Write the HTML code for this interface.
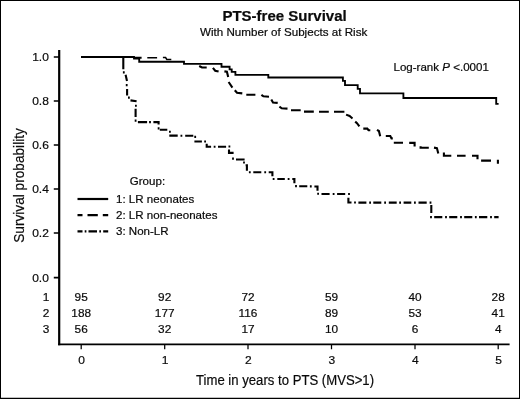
<!DOCTYPE html>
<html>
<head>
<meta charset="utf-8">
<title>PTS-free Survival</title>
<style>
html,body{margin:0;padding:0;background:#fff;}
body{width:520px;height:399px;overflow:hidden;}
svg{display:block;will-change:transform;}
text{font-family:"Liberation Sans",Arial,Helvetica,sans-serif;fill:#0a0a0a;stroke:#0a0a0a;stroke-width:0.2px;}
</style>
</head>
<body>
<svg width="520" height="399" viewBox="0 0 520 399">
<rect x="0" y="0" width="520" height="399" fill="#ffffff"/>
<!-- outer frame -->
<rect x="0.5" y="0.5" width="519" height="398" fill="none" stroke="#000" stroke-width="1"/>
<path d="M0 397.6 H520" stroke="#000" stroke-width="0.8" stroke-opacity="0.35"/>

<!-- titles -->
<text transform="translate(284.55 21.4) scale(1.08 1)" text-anchor="middle" style="font-size:13.9px;font-weight:bold;">PTS-free Survival</text>
<text transform="translate(283.6 35.7) scale(1.058 1)" text-anchor="middle" style="font-size:11px;">With Number of Subjects at Risk</text>

<!-- axes -->
<g stroke="#000" fill="none">
<path d="M59.2 50 V345.3" stroke-width="2.2"/>
<path d="M58.1 344.4 H509.6" stroke-width="1.8"/>

<path stroke-width="1.6" d="M53.8 57 H59 M53.8 101 H59 M53.8 145 H59 M53.8 189 H59 M53.8 233 H59 M53.8 277.6 H59"/>
<path stroke-width="1.25" d="M81.2 344 V349.3 M164.7 344 V349.3 M248 344 V349.3 M331.5 344 V349.3 M415 344 V349.3 M498.2 344 V349.3"/>
</g>

<!-- y tick labels -->
<text transform="translate(48.9 61.2) scale(1.02 1)" text-anchor="end" style="font-size:11.8px;">1.0</text>
<text transform="translate(48.9 105.2) scale(1.02 1)" text-anchor="end" style="font-size:11.8px;">0.8</text>
<text transform="translate(48.9 149.2) scale(1.02 1)" text-anchor="end" style="font-size:11.8px;">0.6</text>
<text transform="translate(48.9 193.2) scale(1.02 1)" text-anchor="end" style="font-size:11.8px;">0.4</text>
<text transform="translate(48.9 237.2) scale(1.02 1)" text-anchor="end" style="font-size:11.8px;">0.2</text>
<text transform="translate(48.9 281.8) scale(1.02 1)" text-anchor="end" style="font-size:11.8px;">0.0</text>
<!-- group rows -->
<text transform="translate(49.3 301.3) scale(1.03 1)" text-anchor="end" style="font-size:11.5px;">1</text>
<text transform="translate(49.3 317.2) scale(1.03 1)" text-anchor="end" style="font-size:11.5px;">2</text>
<text transform="translate(49.3 333.4) scale(1.03 1)" text-anchor="end" style="font-size:11.5px;">3</text>
<!-- x tick labels -->
<text transform="translate(81.5 364.3) scale(1.02 1)" text-anchor="middle" style="font-size:11.8px;">0</text>
<text transform="translate(165.0 364.3) scale(1.02 1)" text-anchor="middle" style="font-size:11.8px;">1</text>
<text transform="translate(248.3 364.3) scale(1.02 1)" text-anchor="middle" style="font-size:11.8px;">2</text>
<text transform="translate(331.8 364.3) scale(1.02 1)" text-anchor="middle" style="font-size:11.8px;">3</text>
<text transform="translate(415.3 364.3) scale(1.02 1)" text-anchor="middle" style="font-size:11.8px;">4</text>
<text transform="translate(498.5 364.3) scale(1.02 1)" text-anchor="middle" style="font-size:11.8px;">5</text>
<!-- number at risk -->
<text transform="translate(81.2 301.3) scale(1.03 1)" text-anchor="middle" style="font-size:11.5px;">95</text>
<text transform="translate(164.7 301.3) scale(1.03 1)" text-anchor="middle" style="font-size:11.5px;">92</text>
<text transform="translate(248 301.3) scale(1.03 1)" text-anchor="middle" style="font-size:11.5px;">72</text>
<text transform="translate(331.5 301.3) scale(1.03 1)" text-anchor="middle" style="font-size:11.5px;">59</text>
<text transform="translate(415 301.3) scale(1.03 1)" text-anchor="middle" style="font-size:11.5px;">40</text>
<text transform="translate(498.2 301.3) scale(1.03 1)" text-anchor="middle" style="font-size:11.5px;">28</text>
<text transform="translate(81.2 317.2) scale(1.03 1)" text-anchor="middle" style="font-size:11.5px;">188</text>
<text transform="translate(164.7 317.2) scale(1.03 1)" text-anchor="middle" style="font-size:11.5px;">177</text>
<text transform="translate(248 317.2) scale(1.03 1)" text-anchor="middle" style="font-size:11.5px;">116</text>
<text transform="translate(331.5 317.2) scale(1.03 1)" text-anchor="middle" style="font-size:11.5px;">89</text>
<text transform="translate(415 317.2) scale(1.03 1)" text-anchor="middle" style="font-size:11.5px;">53</text>
<text transform="translate(498.2 317.2) scale(1.03 1)" text-anchor="middle" style="font-size:11.5px;">41</text>
<text transform="translate(81.2 333.4) scale(1.03 1)" text-anchor="middle" style="font-size:11.5px;">56</text>
<text transform="translate(164.7 333.4) scale(1.03 1)" text-anchor="middle" style="font-size:11.5px;">32</text>
<text transform="translate(248 333.4) scale(1.03 1)" text-anchor="middle" style="font-size:11.5px;">17</text>
<text transform="translate(331.5 333.4) scale(1.03 1)" text-anchor="middle" style="font-size:11.5px;">10</text>
<text transform="translate(415 333.4) scale(1.03 1)" text-anchor="middle" style="font-size:11.5px;">6</text>
<text transform="translate(498.2 333.4) scale(1.03 1)" text-anchor="middle" style="font-size:11.5px;">4</text>
<!-- axis labels -->
<text transform="translate(196 385) scale(0.865 1)" style="font-size:15.2px;">Time in years to PTS (MVS&gt;1)</text>
<text transform="translate(24.3 242.8) rotate(-90) scale(0.9 1)" style="font-size:15.2px;">Survival probability</text>
<!-- annotation -->
<text transform="translate(393.5 71.2) scale(1.09 1)" style="font-size:10.6px;">Log-rank <tspan font-style="italic">P</tspan> &lt;.0001</text>
<!-- legend -->
<text transform="translate(129.8 185) scale(1.09 1)" style="font-size:10.6px;">Group:</text>
<text transform="translate(116 203) scale(1.09 1)" style="font-size:10.6px;">1: LR neonates</text>
<text transform="translate(116 219) scale(1.09 1)" style="font-size:10.6px;">2: LR non-neonates</text>
<text transform="translate(116 235) scale(1.09 1)" style="font-size:10.6px;">3: Non-LR</text>
<g stroke="#000" stroke-width="2.2" fill="none">
<path d="M77.5 199 H108.2"/>
<path d="M77.5 215.1 H82.5 M87.5 215.1 H97.8 M102.8 215.1 H108.2"/>
<path d="M77.5 231.4 H82.5 M84.7 231.4 H86.4 M88.5 231.4 H97 M99.3 231.4 H101 M103.2 231.4 H108.2"/>
</g>

<!-- curves -->
<g stroke="#000" fill="none" stroke-linejoin="miter">
<path stroke-width="1.85" d="M81,57 H134 V58.6 H139.2 V61.7 H184 V63.8 H221.5 V66.7 H229.6 V69.3 H231.7 V71.8 H235.4 V74.8 H268.3 V77.5 H342.9 V80.8 H345 V85.1 H357.7 V88.8 H360 V93.4 H403.4 V98 H496.2 V103.8 H498.6"/>
<path stroke-width="1.5" d="M147.3,57.8 H157.1 M162.9,57.6 H165.6 L166.8,59.4 H171.3"/>
<path stroke-width="2.1" d="M133.6,57.7 H141.6 M199.2,66 L202,67.5 H206.7 M212.9,67.8 L215.2,70.7 L218.6,71.6 M224.4,71.4 L226.9,71.8 L228.2,77 M228.6,82 L232.4,87.6 M234.8,90.2 L237,92.8 L242.3,93.4 M246.3,94.8 H255.4 M261.4,94.8 L263.4,96.3 L269,96.7 M271.3,99.4 L273,102.5 L277.7,102.9 M279.4,106.7 L281.7,108.3 L287.5,108.6 M291,110.2 H300.7 M304,111.6 H313.8 M319,111.7 H328.8 M334,111.7 H344.4 M346.1,114.6 L349.6,116 L352.5,118.5 M355.2,121.6 L357,123.2 L359.4,126.4 M363.3,128.6 H367.3 L368.5,130.2 H370.3 M377,129.8 L378.9,131 L380.2,136.2 M385.8,136 H390.3 L391.5,138.4 H392.8 M393.8,142.8 H403 M409.2,142.9 H414.6 V146.4 M420.6,146.2 V147.8 H428.8 M434,147.6 L436.9,148.1 L438.3,153.4 M443.9,152.6 V155.7 H451.3 M457,155.8 H465.6 M472,155.8 H477.5 V159.3 M481.1,160.6 H491 M497.9,159.8 V163.8"/>
<path stroke-width="2.1" d="M81,57 H123.3 M123.3,57 V69.2 M125.6,74.7 L127,81 M127.1,89.1 V95.5 M130.5,100.4 L136.6,101.3 M135.6,108.8 V116.9 M137.9,122.1 H147.1 M153.4,122.1 H158.6 V124.6 M159.8,129.7 H167.3 M169.3,135.6 H177.7 M185.2,135.8 H193.3 M194.4,141.5 H201.9 M206.7,143.8 V146.8 H211.1 M218,146.8 H226.1 M229,149.5 V152.9 H233.6 M236,159.5 H244.6 M245.6,165.3 H246.9 V170.8 M253.3,172.2 H261.3 M268.7,172.3 H272.4 V176.3 M277.3,179 H284.8 M292.3,179 H294.4 V183.3 M299.2,186.2 H307.3 M314.4,186.5 H317.5 V190.8 M321.5,194 H329.6 M337.1,194 H345.2 M348.4,197.7 V202.5 H351.5 M358.4,202.6 H366.4 M373.3,202.6 H381.3 M388.8,202.6 H396.7 M403.6,202.6 H411.3 M418.5,202.6 H426.7 M431.3,205 V213 M434.2,217.1 H442.3 M449.2,217.1 H457.3 M464.2,217.1 H472.3 M479,217.1 H487.3 M494.2,217.1 H498.6"/>
<path stroke-width="2.1" d="M122.9,72.4 h1.8 M125.8,85.1 h1.8 M128.0,97.6 h1.8 M135.0,105.7 h1.8 M134.7,120.6 h1.8 M149.1,122.1 h1.8 M157.7,128.4 h1.8 M169.0,131.8 h1.8 M180.5,135.8 h1.8 M194.3,136.9 h1.8 M204.2,141.5 h1.8 M213.7,146.8 h1.8 M228.5,146.5 h1.8 M232.1,158.6 h1.8 M243.1,162.5 h1.8 M248.9,172.2 h1.8 M264.3,172.2 h1.8 M272.7,179.0 h1.8 M287.7,179.0 h1.8 M295.1,186.1 h1.8 M309.9,186.4 h1.8 M317.2,193.8 h1.8 M332.7,194.0 h1.8 M348.1,194.0 h1.8 M354.1,202.5 h1.8 M369.2,202.6 h1.8 M384.2,202.6 h1.8 M399.2,202.6 h1.8 M414.0,202.6 h1.8 M429.6,202.6 h1.8 M430.1,217.1 h1.8 M445.1,217.1 h1.8 M460.1,217.1 h1.8 M474.9,217.1 h1.8 M490.1,217.1 h1.8"/>
</g>
</svg>
</body>
</html>
